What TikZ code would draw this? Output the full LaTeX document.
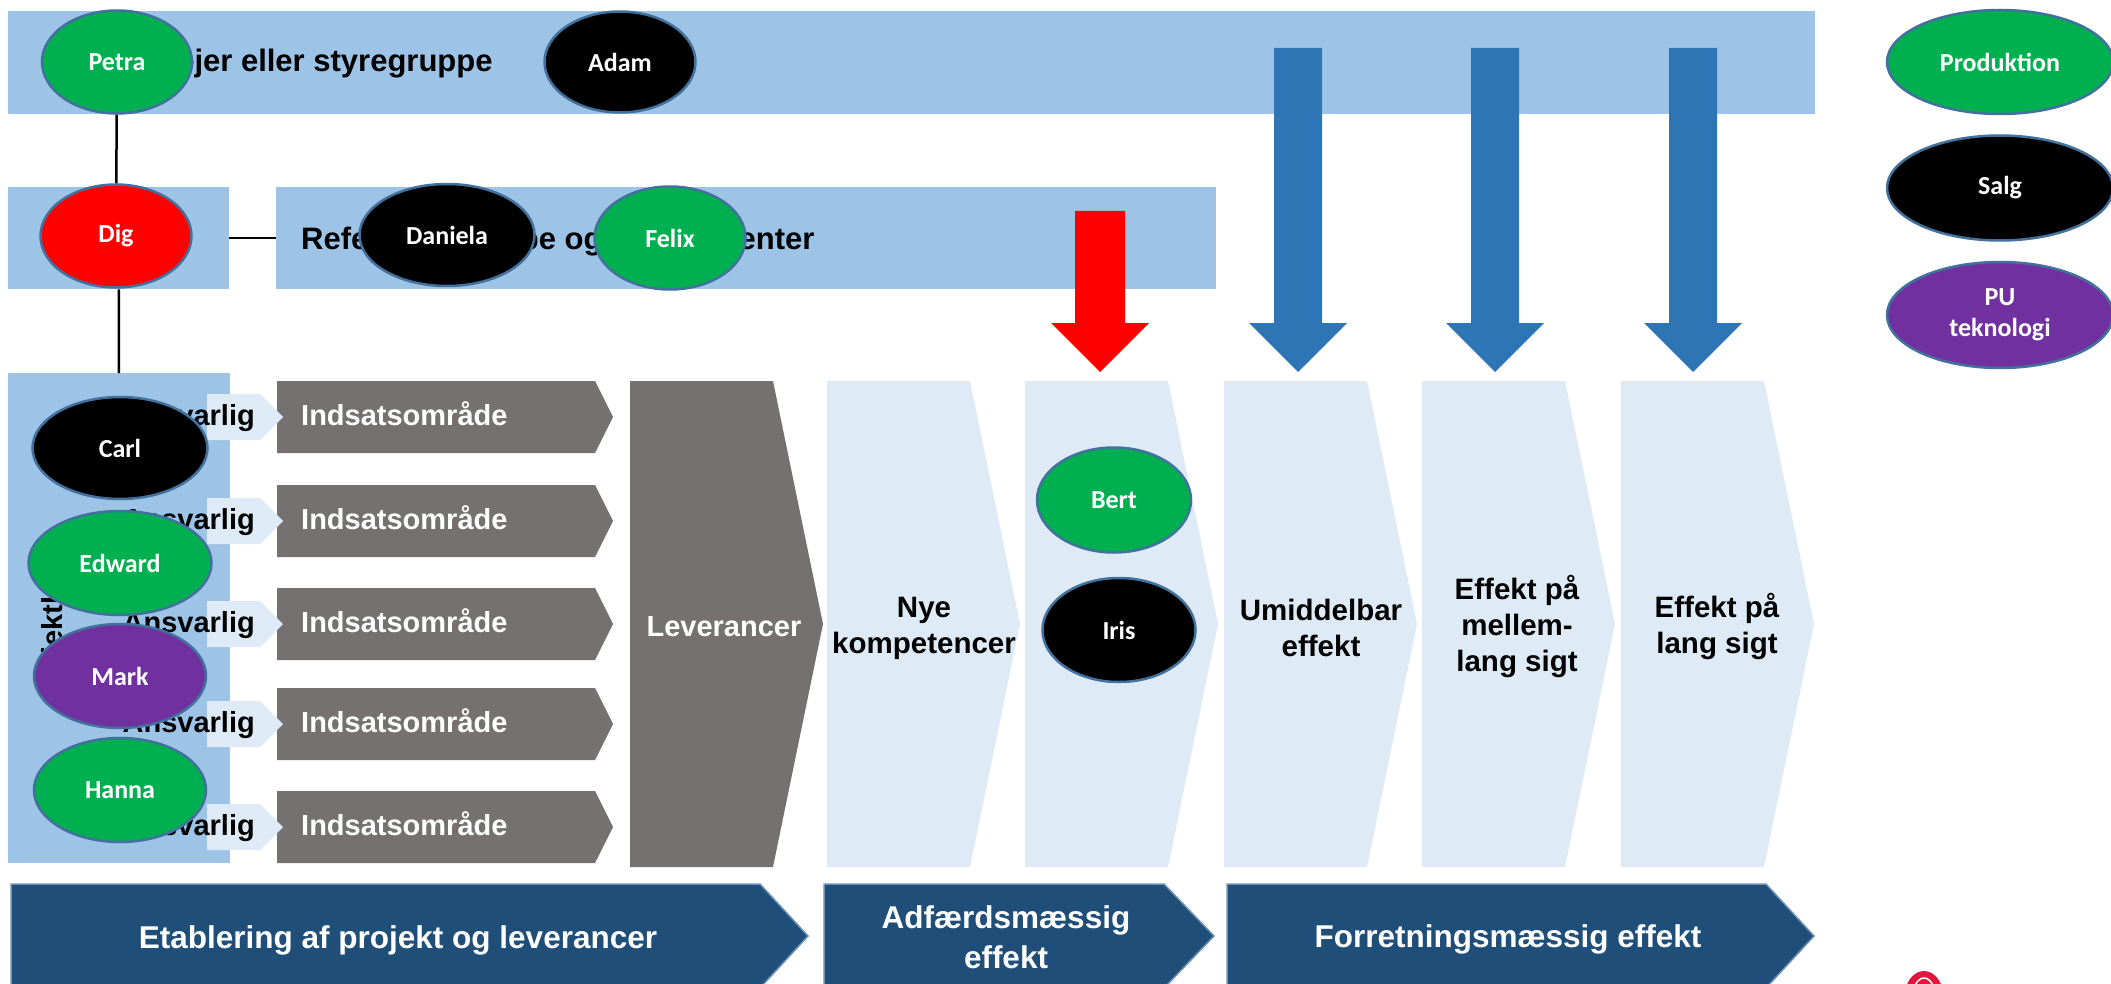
\documentclass[tikz,border=0pt]{standalone}
\usepackage{fontspec}
\setmainfont{Liberation Sans}
\newfontfamily\calib{Carlito}
\usetikzlibrary{shapes.geometric}
\definecolor{bandc}{HTML}{9DC3E6}
\definecolor{lightc}{HTML}{DEEBF7}
\definecolor{grayc}{HTML}{767171}
\definecolor{navyc}{HTML}{1F4E79}
\definecolor{navyedge}{HTML}{6E93B8}
\definecolor{arrowc}{HTML}{2E75B6}
\definecolor{greenc}{HTML}{00B050}
\definecolor{purplec}{HTML}{7030A0}
\definecolor{bordc}{HTML}{41719C}
\definecolor{logoc}{HTML}{E3173E}
\newcommand{\homeplate}[6]{%
  \path[#6] (#1,#2) -- ({#3-#5},#2) -- (#3,{(#2+#4)/2}) -- ({#3-#5},#4) -- (#1,#4) -- cycle;}
\tikzset{
  band/.style={fill=bandc, draw=none, inner sep=0pt, anchor=north west},
  bandtxt/.style={inner sep=0pt, font=\bfseries\fontsize{31}{37}\selectfont},
  rowtxt/.style={inner sep=0pt, font=\bfseries\fontsize{29}{35}\selectfont},
  chevtxt/.style={inner sep=0pt, align=center, font=\bfseries\fontsize{29.5}{36}\selectfont},
  bottxt/.style={inner sep=0pt, align=center, text=white, font=\bfseries\fontsize{31.5}{40}\selectfont},
  person/.style={ellipse, draw=bordc, line width=2.5pt, inner sep=0pt, text=white, align=center,
                 font=\calib\bfseries\fontsize{26}{31}\selectfont},
  conn/.style={draw=black, line width=2.5pt}
}
\begin{document}
\begin{tikzpicture}[x=1pt,y=-1pt]
\useasboundingbox (0,0) rectangle (2111,984);
\fill[white] (0,0) rectangle (2111,984);

% bands
\node[band, minimum width=1807pt, minimum height=103pt] (topband) at (8,11) {};
\node[band, minimum width=221pt, minimum height=102pt] (digbox) at (8,187) {};
\node[band, minimum width=940pt, minimum height=102pt] (refband) at (276,187) {};
\node[band, minimum width=222pt, minimum height=490pt] (projbox) at (8,373) {};

\node[bandtxt, anchor=base west] (toptxt) at (72,72) {Projektejer eller styregruppe};
\node[bandtxt, anchor=base west] (reftxt) at (301,250) {Referencegruppe og ekspertcenter};
\node[rowtxt, rotate=90, anchor=base west] (projtxt) at (62,703) {Projektleder};

% rows
\foreach \r/\i in {417/1,521/2,624/3,724/4,827/5}{
  \homeplate{277}{\r-36}{613}{\r+36}{18}{fill=grayc}
  \homeplate{207}{\r-23}{283}{\r+23}{23}{fill=lightc}
  \node[rowtxt, anchor=base east] (ans\i) at (255,\r+8) {Ansvarlig};
  \node[rowtxt, text=white, anchor=base west] (ind\i) at (301,\r+8) {Indsatsområde};
}

% Leverancer and light chevrons
\homeplate{630}{381}{823}{867}{50}{fill=grayc}
\node[rowtxt, text=white] (lev) at (724,627) {Leverancer};
\homeplate{827}{381}{1020}{867}{50}{fill=lightc}
\homeplate{1025}{381}{1218}{867}{50}{fill=lightc}
\homeplate{1224}{381}{1417}{867}{50}{fill=lightc}
\homeplate{1422}{381}{1615}{867}{50}{fill=lightc}
\homeplate{1621}{381}{1814}{867}{50}{fill=lightc}
\node[chevtxt] (nye) at (924,628) {Nye\\kompetencer};
\node[chevtxt] (umid) at (1321,628) {Umiddelbar\\effekt};
\node[chevtxt] (mell) at (1517,626) {Effekt på\\mellem-\\lang sigt};
\node[chevtxt] (lang) at (1717,626) {Effekt på\\lang sigt};

% block arrows
\fill[red] (1075,211) -- (1125,211) -- (1125,323) -- (1149,323) -- (1100,372) -- (1051,323) -- (1075,323) -- cycle;
\foreach \c in {1298,1495,1693}{
  \fill[arrowc] ({\c-24},48) -- ({\c+24},48) -- ({\c+24},323) -- ({\c+49},323) -- (\c,372) -- ({\c-49},323) -- ({\c-24},323) -- cycle;
}

% bottom band
\begin{scope}
\clip (0,0) rectangle (2111,984);
\homeplate{11}{884}{808}{988}{48}{fill=navyc, draw=navyedge, line width=1.5pt}
\homeplate{824}{884}{1214}{988}{50}{fill=navyc, draw=navyedge, line width=1.5pt}
\homeplate{1227}{884}{1814}{988}{48}{fill=navyc, draw=navyedge, line width=1.5pt}
\fill[logoc] (1924,997) ellipse [x radius=19.5pt, y radius=26pt];
\draw[white, line width=1.5pt] (1924,1000) ellipse [x radius=12pt, y radius=22pt];
\end{scope}
\node[bottxt] (b1) at (398,940) {Etablering af projekt og leverancer};
\node[bottxt] (b2) at (1006,937) {Adfærdsmæssig\\effekt};
\node[bottxt] (b3) at (1508,939) {Forretningsmæssig effekt};

% people
\node[person, fill=greenc, minimum width=150pt, minimum height=103pt] (petra) at (117,62) {Petra};
\node[person, fill=black, minimum width=151pt, minimum height=101pt] (adam) at (620,62) {Adam};
\node[person, fill=red, minimum width=151pt, minimum height=103pt] (dig) at (116,236) {Dig};
\node[person, fill=black, minimum width=175pt, minimum height=102pt] (daniela) at (447,235) {Daniela};
\node[person, fill=greenc, minimum width=151pt, minimum height=103pt] (felix) at (670,238) {Felix};
\node[person, fill=black, minimum width=175pt, minimum height=102pt] (carl) at (120,448) {Carl};
\node[person, fill=greenc, minimum width=183pt, minimum height=104pt] (edward) at (120,563) {Edward};
\node[person, fill=purplec, minimum width=172pt, minimum height=104pt] (mark) at (120,676) {Mark};
\node[person, fill=greenc, minimum width=172pt, minimum height=104pt] (hanna) at (120,790) {Hanna};
\node[person, fill=greenc, minimum width=154pt, minimum height=105pt] (bert) at (1114,500) {Bert};
\node[person, fill=black, minimum width=153pt, minimum height=104pt] (iris) at (1119,630) {Iris};
\node[person, fill=greenc, minimum width=226pt, minimum height=104pt] (prod) at (2000,62) {Produktion};
\node[person, fill=black, minimum width=226pt, minimum height=105pt] (salg) at (2000,188) {Salg};
\node[person, fill=purplec, minimum width=226pt, minimum height=106pt] (pu) at (2000,315) {PU\\teknologi};

% connectors
\draw[conn] (petra) -- (dig);
\draw[conn] (digbox) -- (refband);
\draw[conn] (digbox) -- (projbox);
\end{tikzpicture}
\end{document}
